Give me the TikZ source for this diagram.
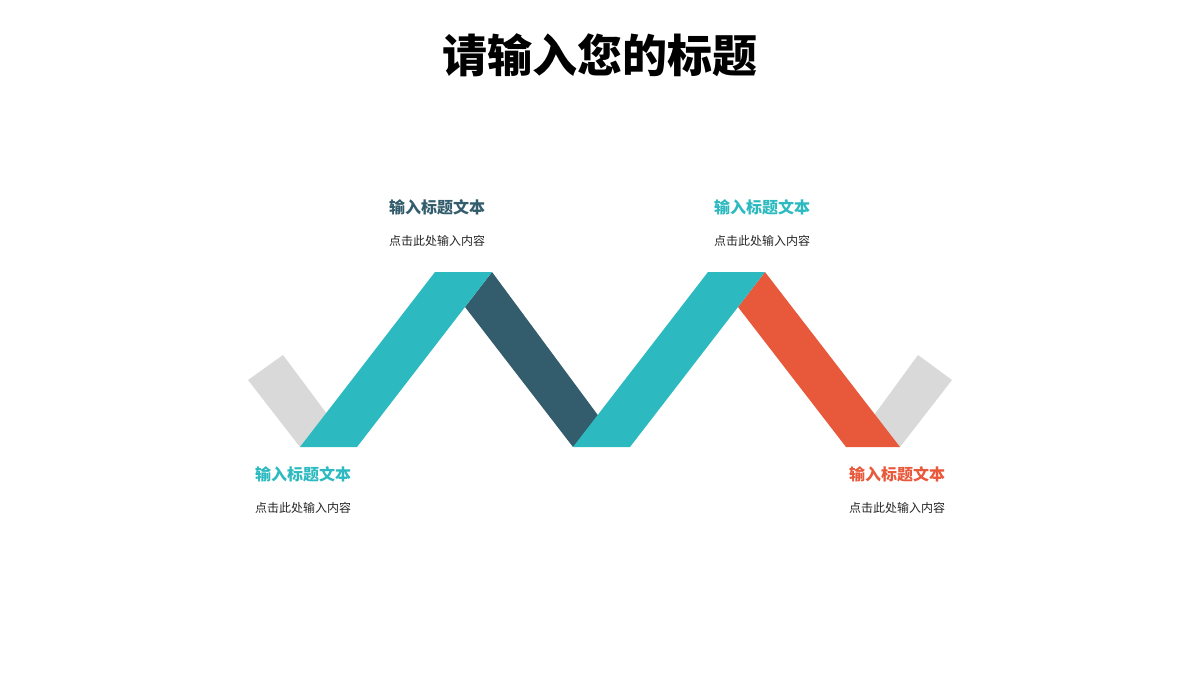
\documentclass[tikz,border=0pt]{standalone}
\usepackage{fontspec}
\newfontfamily\cjk{Noto Sans CJK SC}
\usetikzlibrary{positioning}
\definecolor{teal}{HTML}{2CBAC0}
\definecolor{slate}{HTML}{335C6C}
\definecolor{coral}{HTML}{E8583A}
\definecolor{mist}{HTML}{D9D9D9}
\tikzset{
  head/.style={font=\cjk\bfseries\fontsize{16}{18}\selectfont, inner sep=0pt},
  body/.style={font=\cjk\fontsize{12}{14}\selectfont, inner sep=0pt, text=black!85},
}
\begin{document}
\begin{tikzpicture}[x=1pt, y=-1pt]
		\useasboundingbox (0,0) rectangle (1200,675);
		\node[font=\cjk\bfseries\fontsize{45}{50}\selectfont, inner sep=0pt] (title) at (600,55) {请输入您的标题};
		
		% ribbon
		\fill[mist] (248,380) -- (283,355) -- (330,418) -- (300,447) -- cycle;
		\fill[mist] (872,418) -- (918,355) -- (952,380) -- (900,447) -- cycle;
		\fill[slate] (465,307) -- (492,272) -- (600,418) -- (573,447) -- cycle;
		\fill[coral] (738,307) -- (765,272) -- (900,447) -- (846,447) -- cycle;
		\fill[teal] (300,447) -- (357,447) -- (492,272) -- (435,272) -- cycle;
		\fill[teal] (573,447) -- (630,447) -- (765,272) -- (708,272) -- cycle;
		
		% labels
		\node[head, text=slate] (h1) at (437,207) {输入标题文本};
		\node[body] (b1) [below=20pt of h1] {点击此处输入内容};
		\node[head, text=teal] (h2) at (762,207) {输入标题文本};
		\node[body] (b2) [below=20pt of h2] {点击此处输入内容};
		\node[head, text=teal] (h3) at (303,474) {输入标题文本};
		\node[body] (b3) [below=20pt of h3] {点击此处输入内容};
		\node[head, text=coral] (h4) at (897,474) {输入标题文本};
		\node[body] (b4) [below=20pt of h4] {点击此处输入内容};
	\end{tikzpicture}
\end{document}
